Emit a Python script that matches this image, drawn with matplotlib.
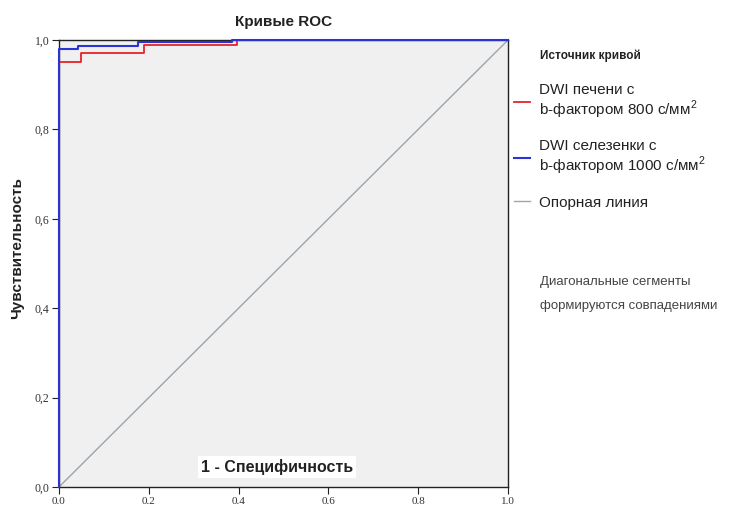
import matplotlib
matplotlib.use("Agg")
import matplotlib.pyplot as plt

# ROC step curves
liver_fpr = [0.0, 0.0, 0.05, 0.05, 0.19, 0.19, 0.396, 0.396, 1.0]
liver_tpr = [0.0, 0.951, 0.951, 0.971, 0.971, 0.989, 0.989, 1.0, 1.0]
spleen_fpr = [0.0, 0.0, 0.043, 0.043, 0.176, 0.176, 0.385, 0.385, 1.0]
spleen_tpr = [0.0, 0.979, 0.979, 0.987, 0.987, 0.995, 0.995, 1.0, 1.0]
ref_x = [0.0, 1.0]
ref_y = [0.0, 1.0]

labels = ["DWI печени с\nb-фактором 800 с/мм$^{\\mathregular{2}}$",
          "DWI селезенки с\nb-фактором 1000 с/мм$^{\\mathregular{2}}$",
          "Опорная линия"]
ticks = [0.0, 0.2, 0.4, 0.6, 0.8, 1.0]
xtick_labels = ["0.0", "0.2", "0.4", "0.6", "0.8", "1.0"]
ytick_labels = ["0,0", "0,2", "0,4", "0,6", "0,8", "1,0"]

sans = ["Liberation Sans", "DejaVu Sans"]
serif = ["Liberation Serif", "DejaVu Serif"]
plt.rcParams["font.family"] = sans
plt.rcParams["mathtext.fontset"] = "custom"
plt.rcParams["mathtext.rm"] = "Liberation Sans"

fig = plt.figure(figsize=(7.33, 5.05), dpi=100)
ax = fig.add_axes([59 / 733, 1 - 487 / 505, 449 / 733, 447 / 505])
ax.set_facecolor("#f0f0f0")

l_ref, = ax.plot(ref_x, ref_y, color="#9aa5ad", lw=1.0, zorder=2)
l_liver, = ax.plot(liver_fpr, liver_tpr, color="#e8222a", lw=1.3, zorder=3,
                   clip_on=False)
l_spleen, = ax.plot(spleen_fpr, spleen_tpr, color="#2b33d6", lw=1.5, zorder=4,
                    clip_on=False)

ax.set_xlim(0, 1)
ax.set_ylim(0, 1)
for s in ax.spines.values():
    s.set_color("#222222")
    s.set_linewidth(1.0)
    s.set_zorder(2.5)
ax.set_xticks(ticks)
ax.set_yticks(ticks)
ax.set_xticklabels(xtick_labels, family=serif, fontsize=8, color="#333333")
ax.set_yticklabels(ytick_labels, family=serif, fontsize=8.5, color="#333333")
ax.tick_params(direction="out", length=5, width=0.8, pad=2, color="#222222")

ax.set_title("Кривые ROC", fontsize=11, fontweight="bold", pad=10, color="#222222")
ax.set_ylabel("Чувствительность", fontsize=11, fontweight="bold", color="#222222")
ax.yaxis.set_label_coords(-0.078, 0.535)
ax.text(0.486, 0.045, "1 - Специфичность", transform=ax.transAxes, ha="center",
        va="center", fontsize=11.5, fontweight="bold", color="#222222", zorder=6,
        bbox=dict(facecolor="white", edgecolor="none", pad=2))

leg = ax.legend([l_liver, l_spleen, l_ref], labels, loc="upper left",
                bbox_to_anchor=(514 / 733, 1 - 83 / 505),
                bbox_transform=fig.transFigure, frameon=False,
                fontsize=11, handlelength=1.05, handletextpad=0.6,
                labelspacing=1.2, borderaxespad=0, borderpad=0)
for t in leg.get_texts():
    t.set_color("#222222")
    t.set_linespacing(1.1)

fig.text(540 / 733, 1 - 56 / 505, "Источник кривой", fontsize=8.5,
         fontweight="bold", color="#222222", va="center")
fig.text(540 / 733, 1 - 282 / 505, "Диагональные сегменты",
         fontsize=9.5, color="#444444", va="center")
fig.text(540 / 733, 1 - 306 / 505, "формируются совпадениями",
         fontsize=9.5, color="#444444", va="center")

fig.savefig("out.png", dpi=100, facecolor="white")
